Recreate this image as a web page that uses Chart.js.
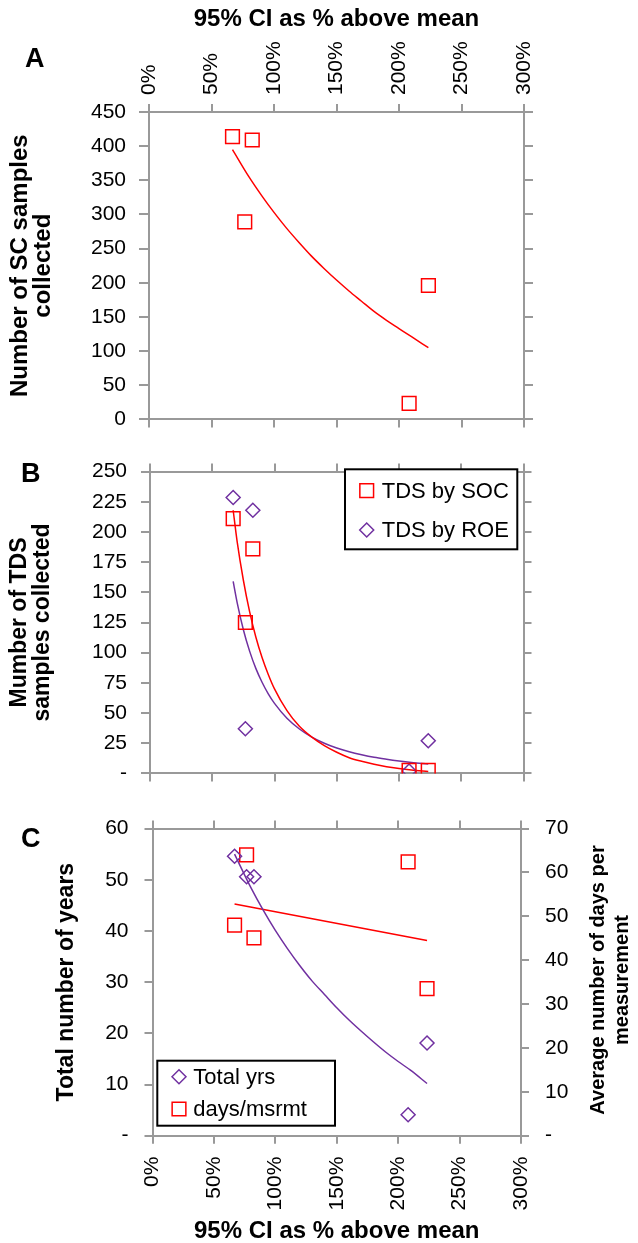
<!DOCTYPE html>
<html><head><meta charset="utf-8">
<script src="https://cdn.jsdelivr.net/npm/chart.js@4.4.1/dist/chart.umd.min.js"></script>
<style>
html,body{margin:0;padding:0;background:#fff;}
body{width:638px;height:1243px;position:relative;overflow:hidden;font-family:'Liberation Sans',Arial,Helvetica,sans-serif;}
canvas{position:absolute;left:0;}
.lbl{position:absolute;font-weight:bold;font-size:27px;line-height:1;color:#000;}
</style></head><body>
<canvas id="cA" width="638" height="445" style="top:0;width:638px;height:445px"></canvas>
<canvas id="cB" width="638" height="355" style="top:445px;width:638px;height:355px"></canvas>
<canvas id="cC" width="638" height="443" style="top:800px;width:638px;height:443px"></canvas>
<div class="lbl" style="left:25px;top:45px">A</div>
<div class="lbl" style="left:21px;top:460px">B</div>
<div class="lbl" style="left:21px;top:825px">C</div>
<script>
// ---------------- DATA ----------------
const xSites = [0.668, 0.766, 0.826, 2.081, 2.235];          // 95% CI as fraction above mean
const xTickLabels = ['0%', '50%', '100%', '150%', '200%', '250%', '300%'];

// Panel A
const scSamples = [414, 289, 409, 23.5, 196];
const scTrendX = [0.668, 0.8, 0.9, 1.0, 1.1, 1.2, 1.3, 1.4, 1.5, 1.6, 1.7, 1.8, 1.9, 2.0, 2.1, 2.235];
const scTrendY = [395, 355, 328, 303, 280, 259, 239, 221, 204, 188, 173, 158, 145, 133, 121, 105];
const yTicksA = ['0', '50', '100', '150', '200', '250', '300', '350', '400', '450'];

// Panel B
const tdsSOC = [211, 125, 186, 2.5, 2.5];
const tdsROE = [228.5, 37, 218, 2, 27];
const socTrendX = [0.668, 0.7, 0.75, 0.8, 0.85, 0.9, 0.95, 1.0, 1.1, 1.2, 1.3, 1.4, 1.5, 1.6, 1.7, 1.8, 1.9, 2.0, 2.1, 2.235];
const socTrendY = [218, 192, 160, 134, 113, 96, 82, 70, 52, 39, 30, 23, 17.5, 13, 10, 7.5, 5.5, 4, 2.8, 1.5];
const roeTrendX = [0.668, 0.7, 0.75, 0.8, 0.85, 0.9, 0.95, 1.0, 1.1, 1.2, 1.3, 1.4, 1.5, 1.6, 1.7, 1.8, 1.9, 2.0, 2.1, 2.235];
const roeTrendY = [159, 141.5, 119, 101.3, 87, 75.5, 65.9, 58, 45.7, 36.8, 30.1, 25, 21, 17.9, 15.4, 13.3, 11.7, 10.3, 9.1, 7.8];
const yTicksB = ['-', '25', '50', '75', '100', '125', '150', '175', '200', '225', '250'];

// Panel C
const totalYears = [54.6, 50.6, 50.6, 4.1, 18.1];
const daysPerMsrmt = [48, 64, 45.1, 62.4, 33.5];
const yrsTrendX = [0.668, 0.8, 0.9, 1.0, 1.1, 1.2, 1.3, 1.4, 1.5, 1.6, 1.7, 1.8, 1.9, 2.0, 2.1, 2.235];
const yrsTrendY = [55, 48.5, 44.1, 40.1, 36.5, 33.2, 30.2, 27.6, 25.0, 22.6, 20.4, 18.3, 16.3, 14.5, 12.8, 10.2];
const daysTrendX = [0.668, 2.235];
const daysTrendY = [52.8, 44.5];
const yTicksC = ['-', '10', '20', '30', '40', '50', '60'];
const yTicksC2 = ['-', '10', '20', '30', '40', '50', '60', '70'];

// ---------------- STYLE ----------------
const FONT = "'Liberation Sans', Arial, Helvetica, sans-serif";
Chart.defaults.font.family = FONT;
Chart.defaults.font.size = 20;
Chart.defaults.color = '#000';
const AXIS = '#999999';
const RED = '#ff0000';
const PURPLE = '#7030a0';
const TICK_SIZE = 21;

const pts = (xs, ys) => xs.map((x, i) => ({x: x, y: ys[i]}));

function squares(label, data, yAxisID) {
  return {label, data, yAxisID: yAxisID || 'y', showLine: false, pointStyle: 'rect', pointRadius: 9.7,
    pointHoverRadius: 9.7, borderColor: RED, backgroundColor: 'rgba(0,0,0,0)', borderWidth: 1.5};
}
function diamonds(label, data, yAxisID) {
  return {label, data, yAxisID: yAxisID || 'y', showLine: false, pointStyle: 'rectRot', pointRadius: 7,
    pointHoverRadius: 7, borderColor: PURPLE, backgroundColor: 'rgba(0,0,0,0)', borderWidth: 1.5};
}
function trend(data, color, yAxisID) {
  return {label: '', data, yAxisID: yAxisID || 'y', showLine: true, pointRadius: 0, borderColor: color,
    borderWidth: 1.5, cubicInterpolationMode: 'monotone', fill: false};
}
function tickOnly(pos, min, max, step, size, tl) {
  return {type: 'linear', position: pos, min, max,
    ticks: {display: false, stepSize: step},
    grid: {display: true, drawOnChartArea: false, drawTicks: true, tickLength: tl || 8, color: AXIS, lineWidth: 2},
    border: {display: true, color: AXIS, width: 2},
    afterFit(s) { if (s.isHorizontal()) s.height = size; else s.width = size; }};
}
function yAxis(pos, max, step, labels, size, tl, pad, title) {
  const o = {type: 'linear', position: pos, min: 0, max,
    ticks: {stepSize: step, padding: pad, callback: (v, i) => labels[i], font: {size: TICK_SIZE}},
    grid: {display: true, drawOnChartArea: false, drawTicks: true, tickLength: tl, color: AXIS, lineWidth: 2},
    border: {display: true, color: AXIS, width: 2},
    afterFit(s) { s.width = size; }};
  if (title) o.title = title;
  return o;
}
function xAxis(pos, size, pad, title) {
  return {type: 'linear', position: pos, min: 0, max: 3,
    ticks: {stepSize: 0.5, autoSkip: false, minRotation: 90, maxRotation: 90, padding: pad,
      labelOffset: pos === 'top' ? TICK_SIZE * 1.2 : 0,
      callback: (v, i) => xTickLabels[i], font: {size: TICK_SIZE}},
    grid: {display: true, drawOnChartArea: false, drawTicks: true, tickLength: 8, color: AXIS, lineWidth: 2},
    border: {display: true, color: AXIS, width: 2},
    title: title,
    afterFit(s) { s.height = size; }};
}

const boxLegend = {
  id: 'boxLegend',
  afterDatasetsDraw(chart, args, o) {
    if (!o || !o.box) return;
    const ctx = chart.ctx;
    const [x0, y0, x1, y1] = o.box;
    ctx.save();
    ctx.fillStyle = '#fff';
    ctx.fillRect(x0, y0, x1 - x0, y1 - y0);
    ctx.lineWidth = 2;
    ctx.strokeStyle = '#000';
    ctx.strokeRect(x0, y0, x1 - x0, y1 - y0);
    o.items.forEach((di, k) => {
      const ds = chart.data.datasets[di];
      const y = o.rowY[k], x = o.markerX;
      ctx.strokeStyle = ds.borderColor;
      ctx.lineWidth = ds.borderWidth;
      ctx.beginPath();
      if (ds.pointStyle === 'rect') {
        const h = ds.pointRadius * Math.SQRT1_2;
        ctx.rect(x - h, y - h, 2 * h, 2 * h);
      } else {
        const r = ds.pointRadius;
        ctx.moveTo(x - r, y); ctx.lineTo(x, y - r); ctx.lineTo(x + r, y); ctx.lineTo(x, y + r); ctx.closePath();
      }
      ctx.stroke();
      ctx.fillStyle = '#000';
      ctx.font = '22px ' + FONT;
      ctx.textAlign = 'left';
      ctx.textBaseline = 'middle';
      ctx.fillText(ds.label, o.textX, y + 1);
    });
    ctx.restore();
  }
};
const rightTitle = {
  id: 'rightTitle',
  afterDraw(chart, args, o) {
    if (!o || !o.lines) return;
    const ctx = chart.ctx;
    ctx.save();
    ctx.font = 'bold ' + o.size + 'px ' + FONT;
    ctx.fillStyle = '#000';
    ctx.textAlign = 'center';
    ctx.textBaseline = 'middle';
    o.lines.forEach((t, i) => {
      ctx.save();
      ctx.translate(o.x[i], o.y);
      ctx.rotate(-Math.PI / 2);
      ctx.fillText(t, 0, 0);
      ctx.restore();
    });
    ctx.restore();
  }
};

const common = {responsive: false, animation: false, events: [], layout: {padding: 0}};
const xTitle = (pad) => ({display: true, text: '95% CI as % above mean',
  font: {size: 24, weight: 'bold', lineHeight: 1}, padding: pad});

// ---------------- PANEL A ----------------
new Chart(document.getElementById('cA'), {
  type: 'scatter',
  data: {datasets: [
    squares('SC samples', pts(xSites, scSamples)),
    trend(pts(scTrendX, scTrendY), RED)
  ]},
  options: Object.assign({}, common, {
    plugins: {legend: {display: false}, tooltip: {enabled: false}},
    scales: {
      x: xAxis('top', 112, 9, xTitle({top: 7, bottom: 0})),
      x2: tickOnly('bottom', 0, 3, 0.5, 19, 8),
      y: yAxis('left', 450, 50, yTicksA, 149, 10, 13, {display: true,
        text: ['Number of SC samples', 'collected'], font: {size: 24, weight: 'bold', lineHeight: 0.96},
        padding: {top: 8.5, bottom: 0}}),
      y2: tickOnly('right', 0, 450, 50, 114, 9)
    }
  })
});

// ---------------- PANEL B ----------------
new Chart(document.getElementById('cB'), {
  type: 'scatter',
  data: {datasets: [
    squares('TDS by SOC', pts(xSites, tdsSOC)),
    diamonds('TDS by ROE', pts(xSites, tdsROE)),
    trend(pts(socTrendX, socTrendY), RED),
    trend(pts(roeTrendX, roeTrendY), PURPLE)
  ]},
  plugins: [boxLegend],
  options: Object.assign({}, common, {
    plugins: {legend: {display: false}, tooltip: {enabled: false},
      boxLegend: {box: [345, 24.3, 517.3, 104.3], items: [0, 1], rowY: [45.7, 85], markerX: 366.7, textX: 381.7}},
    scales: {
      x: tickOnly('bottom', 0, 3, 0.5, 17.5, 8),
      x2: tickOnly('top', 0, 3, 0.5, 18.3, 8),
      y: yAxis('left', 250, 25, yTicksB, 150, 9, 14, {display: true,
        text: ['Mumber of TDS', 'samples collected'], font: {size: 23, weight: 'bold', lineHeight: 1},
        padding: {top: 8.5, bottom: 0}}),
      y2: tickOnly('right', 0, 250, 25, 114.5, 8)
    }
  })
});

// ---------------- PANEL C ----------------
new Chart(document.getElementById('cC'), {
  type: 'scatter',
  data: {datasets: [
    diamonds('Total yrs', pts(xSites, totalYears), 'y'),
    squares('days/msrmt', pts(xSites, daysPerMsrmt), 'y2'),
    trend(pts(yrsTrendX, yrsTrendY), PURPLE, 'y'),
    trend(pts(daysTrendX, daysTrendY), RED, 'y2')
  ]},
  plugins: [boxLegend, rightTitle],
  options: Object.assign({}, common, {
    plugins: {legend: {display: false}, tooltip: {enabled: false},
      boxLegend: {box: [157.3, 260.7, 335, 325.7], items: [0, 1], rowY: [276.7, 309], markerX: 179, textX: 193.3},
      rightTitle: {lines: ['Average number of days per', 'measurement'], x: [598, 622], y: 180, size: 20}},
    scales: {
      x: xAxis('bottom', 107.3, 13, xTitle({top: 0, bottom: 0})),
      x2: tickOnly('top', 0, 3, 0.5, 19.5, 8),
      y: yAxis('left', 60, 10, yTicksC, 152.5, 8, 16, {display: true,
        text: 'Total number of years', font: {size: 23, weight: 'bold', lineHeight: 1},
        padding: {top: 55.5, bottom: 0}}),
      y2: yAxis('right', 70, 10, yTicksC2, 117, 8, 16, null)
    }
  })
});
</script>
</body></html>
